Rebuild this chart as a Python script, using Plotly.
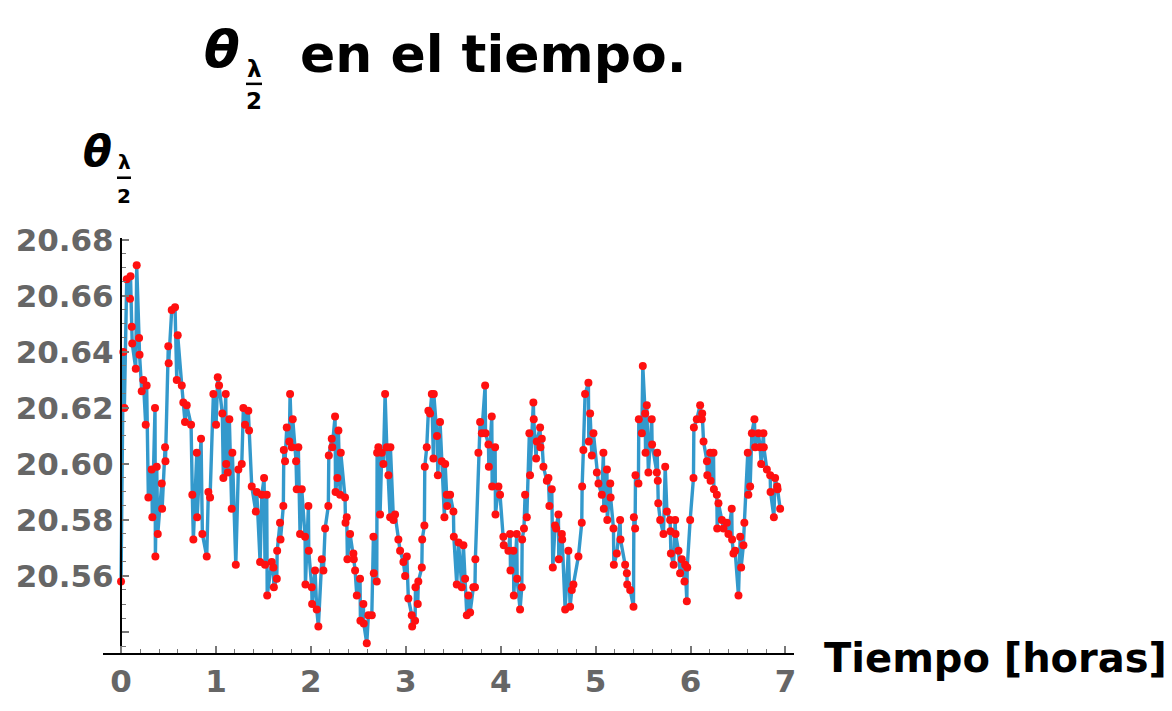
import plotly.graph_objects as go

# Time in hours and the measured angle theta_(lambda/2)
horas = [
    0.000, 0.024, 0.035, 0.060, 0.095, 0.100, 0.113, 0.118, 0.155, 0.165,
    0.190, 0.195, 0.218, 0.235, 0.260, 0.270, 0.288, 0.323, 0.330, 0.358,
    0.362, 0.376, 0.387, 0.429, 0.433, 0.464, 0.468, 0.498, 0.502, 0.534,
    0.569, 0.587, 0.597, 0.640, 0.656, 0.674, 0.692, 0.738, 0.751, 0.762,
    0.798, 0.802, 0.843, 0.857, 0.903, 0.920, 0.938, 0.973, 1.001, 1.019,
    1.033, 1.067, 1.078, 1.103, 1.108, 1.124, 1.141, 1.166, 1.173, 1.209,
    1.236, 1.272, 1.289, 1.307, 1.341, 1.349, 1.377, 1.420, 1.430, 1.465,
    1.483, 1.507, 1.517, 1.535, 1.540, 1.588, 1.605, 1.610, 1.641, 1.645,
    1.675, 1.680, 1.710, 1.715, 1.728, 1.746, 1.773, 1.781, 1.799, 1.809,
    1.844, 1.851, 1.868, 1.886, 1.904, 1.939, 1.943, 1.974, 1.978, 2.009,
    2.013, 2.044, 2.062, 2.079, 2.115, 2.132, 2.150, 2.184, 2.189, 2.220,
    2.225, 2.255, 2.260, 2.279, 2.290, 2.308, 2.315, 2.360, 2.365, 2.378,
    2.385, 2.413, 2.448, 2.452, 2.466, 2.484, 2.518, 2.522, 2.553, 2.557,
    2.589, 2.606, 2.642, 2.659, 2.663, 2.694, 2.698, 2.711, 2.729, 2.747,
    2.764, 2.782, 2.800, 2.817, 2.835, 2.838, 2.870, 2.887, 2.922, 2.940,
    2.975, 2.993, 3.011, 3.027, 3.063, 3.067, 3.098, 3.102, 3.126, 3.132,
    3.169, 3.173, 3.196, 3.200, 3.221, 3.238, 3.256, 3.274, 3.291, 3.295,
    3.329, 3.338, 3.361, 3.379, 3.407, 3.415, 3.432, 3.436, 3.467, 3.502,
    3.506, 3.537, 3.556, 3.590, 3.607, 3.625, 3.643, 3.660, 3.678, 3.712,
    3.729, 3.733, 3.765, 3.783, 3.801, 3.836, 3.840, 3.871, 3.875, 3.906,
    3.910, 3.941, 3.945, 3.976, 3.993, 4.028, 4.032, 4.081, 4.099, 4.103,
    4.134, 4.138, 4.169, 4.173, 4.204, 4.222, 4.226, 4.245, 4.257, 4.275,
    4.302, 4.309, 4.344, 4.348, 4.373, 4.380, 4.415, 4.419, 4.433, 4.450,
    4.486, 4.503, 4.513, 4.538, 4.549, 4.573, 4.584, 4.608, 4.612, 4.644,
    4.648, 4.679, 4.713, 4.731, 4.749, 4.766, 4.819, 4.854, 4.858, 4.871,
    4.889, 4.924, 4.928, 4.942, 4.960, 4.977, 5.013, 5.030, 5.065, 5.082,
    5.086, 5.119, 5.123, 5.154, 5.158, 5.188, 5.192, 5.223, 5.258, 5.262,
    5.311, 5.329, 5.333, 5.364, 5.399, 5.403, 5.416, 5.420, 5.451, 5.455,
    5.487, 5.497, 5.522, 5.526, 5.539, 5.556, 5.591, 5.595, 5.645, 5.649,
    5.655, 5.660, 5.680, 5.715, 5.733, 5.751, 5.785, 5.789, 5.793, 5.822,
    5.838, 5.842, 5.873, 5.890, 5.908, 5.936, 5.943, 5.961, 5.965, 5.996,
    6.031, 6.035, 6.066, 6.101, 6.119, 6.123, 6.137, 6.173, 6.177, 6.207,
    6.211, 6.242, 6.246, 6.277, 6.281, 6.294, 6.330, 6.347, 6.382, 6.399,
    6.434, 6.438, 6.452, 6.470, 6.505, 6.523, 6.533, 6.557, 6.567, 6.603,
    6.609, 6.628, 6.646, 6.673, 6.681, 6.715, 6.733, 6.744, 6.768, 6.772,
    6.804, 6.839, 6.843, 6.878, 6.891, 6.913, 6.917, 6.944,
]

theta = [
    20.558, 20.640, 20.620, 20.666, 20.659, 20.667, 20.649, 20.643, 20.634, 20.671,
    20.645, 20.639, 20.626, 20.630, 20.614, 20.628, 20.588, 20.598, 20.581, 20.620,
    20.567, 20.599, 20.575, 20.593, 20.584, 20.606, 20.601, 20.642, 20.636, 20.655,
    20.656, 20.630, 20.646, 20.628, 20.622, 20.615, 20.621, 20.614, 20.589, 20.573,
    20.604, 20.581, 20.609, 20.575, 20.567, 20.590, 20.588, 20.625, 20.614, 20.631,
    20.628, 20.618, 20.595, 20.625, 20.600, 20.597, 20.616, 20.584, 20.604, 20.564,
    20.598, 20.600, 20.620, 20.614, 20.619, 20.612, 20.592, 20.583, 20.590, 20.565,
    20.589, 20.595, 20.564, 20.589, 20.553, 20.565, 20.563, 20.556, 20.559, 20.569,
    20.579, 20.573, 20.585, 20.605, 20.601, 20.613, 20.608, 20.625, 20.606, 20.616,
    20.601, 20.591, 20.606, 20.575, 20.591, 20.574, 20.557, 20.585, 20.569, 20.556,
    20.550, 20.562, 20.548, 20.542, 20.566, 20.562, 20.577, 20.585, 20.603, 20.609,
    20.606, 20.617, 20.590, 20.595, 20.612, 20.589, 20.604, 20.588, 20.579, 20.581,
    20.566, 20.575, 20.568, 20.566, 20.562, 20.553, 20.559, 20.544, 20.550, 20.543,
    20.536, 20.546, 20.546, 20.574, 20.561, 20.558, 20.604, 20.606, 20.582, 20.604,
    20.600, 20.625, 20.606, 20.596, 20.581, 20.606, 20.580, 20.582, 20.573, 20.569,
    20.565, 20.560, 20.567, 20.552, 20.546, 20.542, 20.544, 20.556, 20.550, 20.558,
    20.563, 20.573, 20.578, 20.599, 20.606, 20.619, 20.618, 20.625, 20.602, 20.625,
    20.610, 20.596, 20.615, 20.601, 20.581, 20.600, 20.589, 20.585, 20.589, 20.583,
    20.574, 20.557, 20.572, 20.556, 20.571, 20.559, 20.546, 20.553, 20.547, 20.556,
    20.556, 20.566, 20.604, 20.615, 20.611, 20.628, 20.611, 20.607, 20.599, 20.617,
    20.592, 20.606, 20.582, 20.592, 20.589, 20.574, 20.571, 20.569, 20.575, 20.562,
    20.569, 20.553, 20.575, 20.559, 20.548, 20.556, 20.573, 20.577, 20.589, 20.581,
    20.611, 20.596, 20.622, 20.616, 20.602, 20.608, 20.613, 20.606, 20.609, 20.599,
    20.594, 20.595, 20.585, 20.591, 20.563, 20.578, 20.577, 20.582, 20.566, 20.575,
    20.573, 20.548, 20.569, 20.549, 20.555, 20.557, 20.567, 20.579, 20.592, 20.605,
    20.625, 20.629, 20.608, 20.618, 20.603, 20.611, 20.597, 20.593, 20.589, 20.604,
    20.584, 20.598, 20.580, 20.593, 20.588, 20.577, 20.564, 20.568, 20.580, 20.573,
    20.564, 20.561, 20.557, 20.555, 20.549, 20.581, 20.577, 20.596, 20.593, 20.616,
    20.611, 20.635, 20.618, 20.604, 20.621, 20.597, 20.616, 20.607, 20.597, 20.604,
    20.594, 20.586, 20.580, 20.575, 20.599, 20.583, 20.580, 20.576, 20.568, 20.564,
    20.580, 20.575, 20.569, 20.561, 20.566, 20.558, 20.564, 20.551, 20.563, 20.580,
    20.595, 20.613, 20.616, 20.621, 20.616, 20.618, 20.608, 20.601, 20.596, 20.604,
    20.594, 20.604, 20.591, 20.589, 20.577, 20.586, 20.580, 20.577, 20.579, 20.575,
    20.584, 20.573, 20.568, 20.569, 20.553, 20.574, 20.563, 20.571, 20.579, 20.604,
    20.589, 20.592, 20.611, 20.616, 20.606, 20.611, 20.606, 20.600, 20.611, 20.606,
    20.598, 20.596, 20.590, 20.581, 20.595, 20.592, 20.591, 20.584,
]

x_ticks = [0, 1, 2, 3, 4, 5, 6, 7]
y_ticks = [20.54, 20.56, 20.58, 20.60, 20.62, 20.64, 20.66, 20.68]
y_tick_text = ["", "20.56", "20.58", "20.60", "20.62", "20.64", "20.66", "20.68"]

W, H = 1172, 711
X_RANGE = [-0.19, 7.09]
Y_RANGE = [20.5325, 20.6807]
M_L, M_R, M_T, M_B = 103, 378, 238, 53
PLOT_W = W - M_L - M_R
PLOT_H = H - M_T - M_B

FONT = "DejaVu Sans"
TICK_GREY = "#666666"


def px(x):
    """Pixel column -> paper x coordinate."""
    return (x - M_L) / PLOT_W


def py(y):
    """Pixel row -> paper y coordinate."""
    return (H - M_B - y) / PLOT_H


fig = go.Figure()

fig.add_trace(go.Scatter(
    x=horas, y=theta, mode="lines",
    line=dict(color="#3399cc", width=3.4),
    hoverinfo="skip", showlegend=False,
))
fig.add_trace(go.Scatter(
    x=horas, y=theta, mode="markers",
    marker=dict(color="#ff1010", size=8, line=dict(width=0)),
    showlegend=False,
))

axis_common = dict(
    showgrid=False, zeroline=False,
    showline=True, linecolor="black", linewidth=2.2,
    ticks="inside", tickcolor="#777777", tickwidth=1.5, ticklen=7,
    tickfont=dict(family=FONT, size=31, color=TICK_GREY, weight="bold"),
)

fig.update_layout(
    width=W, height=H,
    margin=dict(l=M_L, r=M_R, t=M_T, b=M_B, pad=0),
    paper_bgcolor="white", plot_bgcolor="white",
    xaxis=dict(
        range=X_RANGE, tickvals=x_ticks,
        ticktext=[str(v) for v in x_ticks],
        minor=dict(ticks="inside", dtick=0.2, tick0=0, ticklen=4,
                   tickcolor="#777777", tickwidth=1.2, showgrid=False),
        **axis_common,
    ),
    yaxis=dict(
        range=Y_RANGE, tickvals=y_ticks, ticktext=y_tick_text,
        anchor="free", position=px(121),
        minor=dict(ticks="inside", dtick=0.005, tick0=20.54, ticklen=4,
                   tickcolor="#777777", tickwidth=1.2, showgrid=False),
        **axis_common,
    ),
)

annotations = [
    # title: theta with lambda/2 subscript, then the rest of the sentence
    dict(text="θ", x=px(222), y=py(47), size=52, style="italic"),
    dict(text="λ", x=px(254), y=py(67), size=23, style="normal"),
    dict(text="2", x=px(254), y=py(99), size=23, style="normal"),
    dict(text="en el tiempo.", x=px(298), y=py(52), size=52, style="normal", xanchor="left"),
    # y-axis label
    dict(text="θ", x=px(97), y=py(150), size=42, style="italic"),
    dict(text="λ", x=px(124), y=py(161), size=20, style="normal"),
    dict(text="2", x=px(124), y=py(195), size=20, style="normal"),
    # x-axis label
    dict(text="Tiempo [horas]", x=px(822), y=py(663), size=40, style="normal", xanchor="left"),
]
for a in annotations:
    fig.add_annotation(
        text=a["text"], x=a["x"], y=a["y"], xref="paper", yref="paper",
        xanchor=a.get("xanchor", "center"), yanchor="middle", showarrow=False,
        font=dict(family=FONT, size=a["size"], color="black", weight="bold", style=a["style"]),
    )

# fraction bars under lambda
for x0, x1, yb in [(246, 262, 82), (117, 131, 177)]:
    fig.add_shape(type="line", xref="paper", yref="paper",
                  x0=px(x0), x1=px(x1), y0=py(yb), y1=py(yb),
                  line=dict(color="black", width=2.5))

fig.write_html("out.html")
